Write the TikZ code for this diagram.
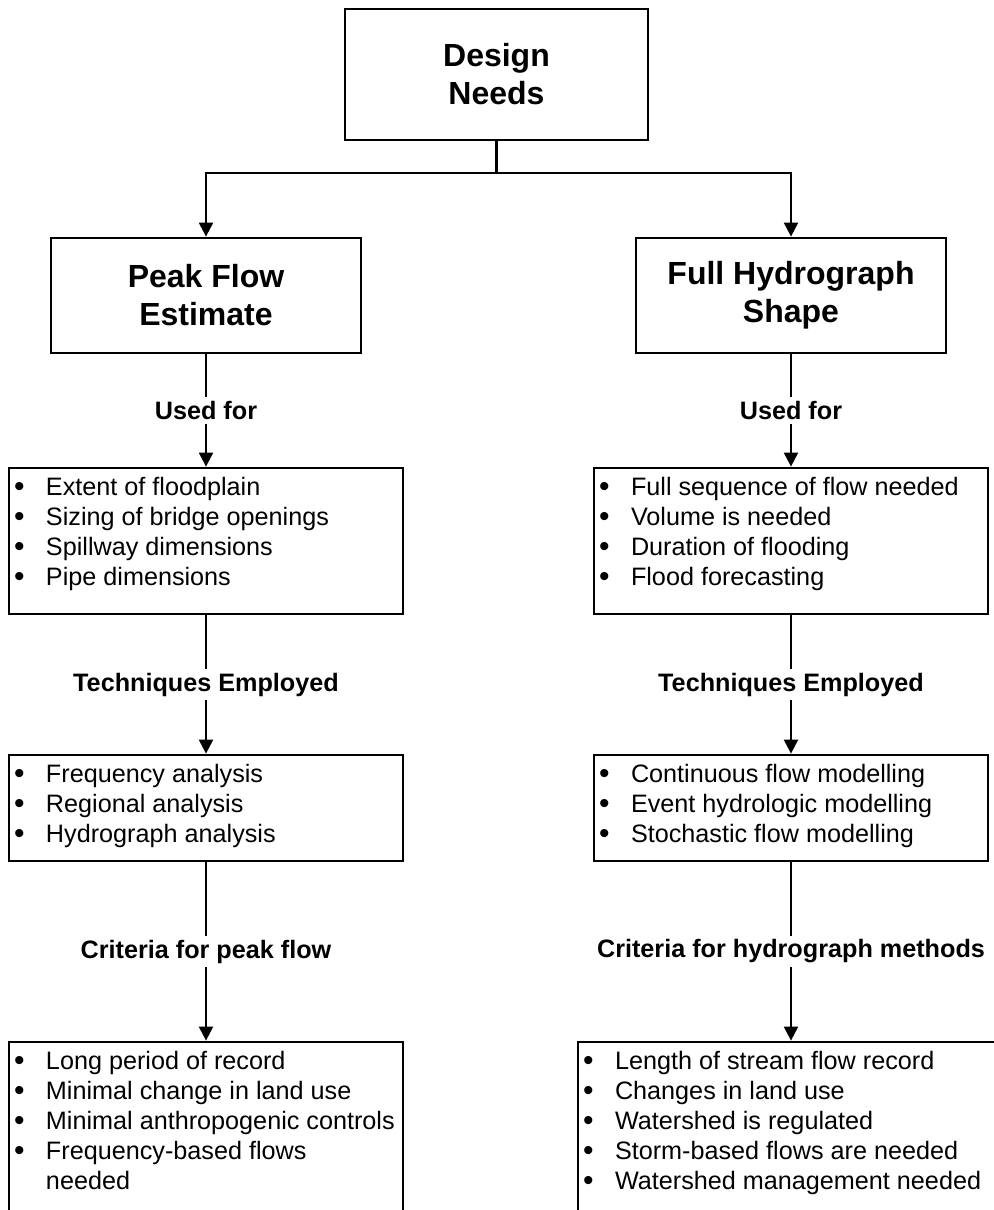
\documentclass[tikz,border=0pt]{standalone}
\usepackage{fontspec}
\setmainfont{Liberation Sans}
\usetikzlibrary{positioning,arrows.meta}

\newcommand{\bitem}[1]{\makebox[16pt][l]{\raisebox{-0.3pt}{\fontsize{15}{15}\selectfont\textbullet}}#1}

\tikzset{
  headbox/.style={draw, line width=1.4pt, minimum width=155pt, minimum height=57.5pt, align=center, font=\fontsize{16}{19}\selectfont\bfseries},
  listbox/.style={draw, line width=1.4pt, minimum width=197pt},
  listtext/.style={anchor=base west, inner sep=0pt, font=\fontsize{12.6}{15}\selectfont},
  lbl/.style={fill=white, inner sep=2pt, font=\fontsize{12.6}{15}\selectfont\bfseries},
  arr/.style={-{Triangle[length=7pt,width=7pt]}, line width=1.1pt},
}

\begin{document}
\begin{tikzpicture}[x=0.5pt,y=-0.5pt]
  \useasboundingbox (0,0) rectangle (994,1210);
  \clip (0,0) rectangle (994,1210);

  % Define the top node and the two branches
  \node[headbox, minimum width=151.5pt, minimum height=65.5pt] (need) at (496.5,74.5) {Design\\Needs};
  \node[headbox] (peak) at (206,295.5) {Peak Flow\\Estimate};
  \node[headbox] (full) at (791,295.5) {Full Hydrograph\\Shape};

  % Draw the split below the top node
  \coordinate (split) at (496.5,173);
  \draw[line width=1.1pt] (need) -- (split);
  \draw[arr] (split) -| (peak);
  \draw[arr] (split) -| (full);

  % Define the boxes of the peak flow side
  \node[listbox, minimum height=73pt] (usep) at (206,541) {};
  \node[listbox, minimum height=53pt] (techp) at (206,808) {};
  \node[listbox, minimum height=99pt] (critp) at (206,1141) {};

  % Define the boxes of the hydrograph side
  \node[listbox, minimum height=73pt] (usef) at (791,541) {};
  \node[listbox, minimum height=53pt] (techf) at (791,808) {};
  \node[listbox, minimum width=213pt, minimum height=99pt] (critf) at (791,1141) {};

  % Fill the boxes
  \node[listtext] at ([xshift=3pt,yshift=-14.5pt]usep.north west) {\begin{tabular}[t]{@{}l@{}}
    \bitem{Extent of floodplain}\\ \bitem{Sizing of bridge openings}\\
    \bitem{Spillway dimensions}\\ \bitem{Pipe dimensions}\end{tabular}};
  \node[listtext] at ([xshift=3pt,yshift=-14.5pt]techp.north west) {\begin{tabular}[t]{@{}l@{}}
    \bitem{Frequency analysis}\\ \bitem{Regional analysis}\\
    \bitem{Hydrograph analysis}\end{tabular}};
  \node[listtext] at ([xshift=3pt,yshift=-14.5pt]critp.north west) {\begin{tabular}[t]{@{}l@{}}
    \bitem{Long period of record}\\ \bitem{Minimal change in land use}\\
    \bitem{Minimal anthropogenic controls}\\ \bitem{Frequency-based flows}\\
    \makebox[16pt]{}needed\end{tabular}};
  \node[listtext] at ([xshift=3pt,yshift=-14.5pt]usef.north west) {\begin{tabular}[t]{@{}l@{}}
    \bitem{Full sequence of flow needed}\\ \bitem{Volume is needed}\\
    \bitem{Duration of flooding}\\ \bitem{Flood forecasting}\end{tabular}};
  \node[listtext] at ([xshift=3pt,yshift=-14.5pt]techf.north west) {\begin{tabular}[t]{@{}l@{}}
    \bitem{Continuous flow modelling}\\ \bitem{Event hydrologic modelling}\\
    \bitem{Stochastic flow modelling}\end{tabular}};
  \node[listtext] at ([xshift=3pt,yshift=-14.5pt]critf.north west) {\begin{tabular}[t]{@{}l@{}}
    \bitem{Length of stream flow record}\\ \bitem{Changes in land use}\\
    \bitem{Watershed is regulated}\\ \bitem{Storm-based flows are needed}\\
    \bitem{Watershed management needed}\end{tabular}};

  % Draw the arrows down each side
  \draw[arr] (peak) -- node[lbl] {Used for} (usep);
  \draw[arr] (usep) -- node[lbl] {Techniques Employed} (techp);
  \draw[arr] (techp) -- node[lbl] {Criteria for peak flow} (critp);
  \draw[arr] (full) -- node[lbl] {Used for} (usef);
  \draw[arr] (usef) -- node[lbl] {Techniques Employed} (techf);
  \draw[arr] (techf) -- node[lbl] {Criteria for hydrograph methods} (critf);
\end{tikzpicture}
\end{document}
